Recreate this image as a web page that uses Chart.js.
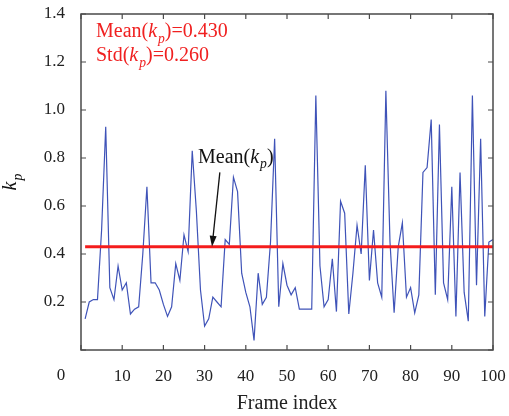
<!DOCTYPE html>
<html>
<head>
<meta charset="utf-8">
<script src="https://cdn.jsdelivr.net/npm/chart.js@4.4.1/dist/chart.umd.min.js"></script>
<style>
  html, body { margin: 0; padding: 0; background: #fff; }
  canvas { display: block; }
</style>
</head>
<body>
<canvas id="kpChart" width="509" height="416"></canvas>
<script>
// k_p per frame, frames 1..100
var kpValues = [
  0.13, 0.20, 0.21, 0.21, 0.50, 0.93, 0.26, 0.21, 0.35, 0.25,
  0.28, 0.15, 0.17, 0.18, 0.40, 0.68, 0.28, 0.28, 0.25, 0.19,
  0.14, 0.18, 0.36, 0.29, 0.48, 0.41, 0.83, 0.58, 0.25, 0.10,
  0.13, 0.22, 0.20, 0.18, 0.46, 0.44, 0.72, 0.66, 0.32, 0.24,
  0.18, 0.04, 0.32, 0.19, 0.22, 0.45, 0.88, 0.18, 0.36, 0.27,
  0.23, 0.26, 0.17, 0.17, 0.17, 0.17, 1.06, 0.35, 0.18, 0.21,
  0.38, 0.16, 0.62, 0.57, 0.15, 0.32, 0.52, 0.40, 0.77, 0.29,
  0.50, 0.28, 0.22, 1.08, 0.45, 0.155, 0.43, 0.53, 0.22, 0.26,
  0.155, 0.23, 0.74, 0.76, 0.96, 0.23, 0.94, 0.28, 0.21, 0.68,
  0.14, 0.74, 0.24, 0.12, 1.06, 0.27, 0.88, 0.14, 0.45, 0.46
];
var meanKp = 0.430;
var stdKp = 0.260;
var meanSpan = [1, 100];

var xTicks = [0, 10, 20, 30, 40, 50, 60, 70, 80, 90, 100];
var yTicks = [0, 0.2, 0.4, 0.6, 0.8, 1.0, 1.2, 1.4];

var SERIF = '"Liberation Serif", "Times New Roman", serif';

// draws text made of pieces, some italic and some as subscripts
function richText(ctx, x, y, parts, size, color) {
  ctx.save();
  ctx.fillStyle = color;
  ctx.textAlign = 'left';
  ctx.textBaseline = 'alphabetic';
  parts.forEach(function(p) {
    var fs = p.sub ? size * 0.68 : size;
    ctx.font = (p.it ? 'italic ' : '') + fs + 'px ' + SERIF;
    ctx.fillText(p.t, x, y + (p.sub ? size * 0.28 : 0));
    x += ctx.measureText(p.t).width + (p.it && !p.sub ? 1 : 0);
  });
  ctx.restore();
}

function kp(prefix, suffix) {
  return [{t: prefix}, {t: 'k', it: true}, {t: 'p', it: true, sub: true}, {t: suffix}];
}

// keep tick labels from pushing the plot area inwards
function noLabelPadding(scale) {
  scale.paddingTop = 0;
  scale.paddingBottom = 0;
  scale.paddingLeft = 0;
  scale.paddingRight = 0;
}

var frameDecor = {
  id: 'frameDecor',
  afterDraw: function(chart) {
    var ctx = chart.ctx;
    var a = chart.chartArea;
    var xs = chart.scales.x, ys = chart.scales.y;
    var tick = 5;

    ctx.save();
    ctx.strokeStyle = '#4a4a4a';
    ctx.lineWidth = 1.5;
    ctx.strokeRect(a.left, a.top, a.right - a.left, a.bottom - a.top);

    // inward tick marks on all four sides
    ctx.lineWidth = 1.2;
    ctx.beginPath();
    xTicks.forEach(function(v) {
      var px = xs.getPixelForValue(v);
      ctx.moveTo(px, a.bottom); ctx.lineTo(px, a.bottom - tick);
      ctx.moveTo(px, a.top); ctx.lineTo(px, a.top + tick);
    });
    yTicks.forEach(function(v) {
      var py = ys.getPixelForValue(v);
      ctx.moveTo(a.left, py); ctx.lineTo(a.left + tick, py);
      ctx.moveTo(a.right, py); ctx.lineTo(a.right - tick, py);
    });
    ctx.stroke();

    // shared origin label
    ctx.fillStyle = '#222';
    ctx.font = '17px ' + SERIF;
    ctx.textAlign = 'center';
    ctx.textBaseline = 'middle';
    ctx.fillText('0', a.left - 20, a.bottom + 26);

    // y axis title k_p, rotated
    ctx.translate(16, (a.top + a.bottom) / 2);
    ctx.rotate(-Math.PI / 2);
    ctx.font = 'italic 20px ' + SERIF;
    var w = ctx.measureText('k').width + 8;
    richText(ctx, -w / 2, 0, [{t: 'k', it: true}, {t: 'p', it: true, sub: true}], 20, '#111');
    ctx.restore();

    // statistics in the top left corner
    richText(ctx, a.left + 15, a.top + 23, kp('Mean(', ')=' + meanKp.toFixed(3)), 20, '#f02020');
    richText(ctx, a.left + 15, a.top + 47, kp('Std(', ')=' + stdKp.toFixed(3)), 20, '#f02020');

    // arrow pointing at the mean line
    var tipX = xs.getPixelForValue(31.8), tipY = ys.getPixelForValue(meanKp);
    var tailX = xs.getPixelForValue(33.7), tailY = ys.getPixelForValue(0.74);
    richText(ctx, xs.getPixelForValue(28.4), ys.getPixelForValue(0.78), kp('Mean(', ')'), 20, '#111');
    var ang = Math.atan2(tipY - tailY, tipX - tailX);
    ctx.save();
    ctx.strokeStyle = '#111';
    ctx.fillStyle = '#111';
    ctx.lineWidth = 1.3;
    ctx.beginPath();
    ctx.moveTo(tailX, tailY);
    ctx.lineTo(tipX - 9 * Math.cos(ang), tipY - 9 * Math.sin(ang));
    ctx.stroke();
    ctx.beginPath();
    ctx.moveTo(tipX, tipY);
    ctx.lineTo(tipX - 11 * Math.cos(ang) + 3.5 * Math.sin(ang), tipY - 11 * Math.sin(ang) - 3.5 * Math.cos(ang));
    ctx.lineTo(tipX - 11 * Math.cos(ang) - 3.5 * Math.sin(ang), tipY - 11 * Math.sin(ang) + 3.5 * Math.cos(ang));
    ctx.closePath();
    ctx.fill();
    ctx.restore();
  }
};

var kpPoints = kpValues.map(function(v, i) { return {x: i + 1, y: v}; });
var meanPoints = meanSpan.map(function(f) { return {x: f, y: meanKp}; });

new Chart(document.getElementById('kpChart').getContext('2d'), {
  type: 'line',
  data: {
    datasets: [{
      label: 'Mean',
      data: meanPoints,
      borderColor: '#f41c1c',
      borderWidth: 3,
      pointRadius: 0,
      tension: 0
    }, {
      label: 'kp',
      data: kpPoints,
      borderColor: '#3f53b8',
      borderWidth: 1.2,
      pointRadius: 0,
      tension: 0
    }]
  },
  options: {
    responsive: false,
    animation: false,
    devicePixelRatio: 1,
    layout: { padding: { left: 0, right: 16, top: 14, bottom: 0 } },
    plugins: {
      legend: { display: false },
      tooltip: { enabled: false }
    },
    scales: {
      x: {
        type: 'linear',
        min: 0,
        max: 100,
        afterBuildTicks: function(scale) {
          scale.ticks = xTicks.map(function(v) { return {value: v}; });
        },
        afterFit: function(scale) { scale.height = 66; noLabelPadding(scale); },
        grid: { display: false, drawTicks: false },
        border: { display: false },
        ticks: {
          padding: 16,
          color: '#222',
          font: { family: SERIF, size: 17 },
          maxRotation: 0,
          callback: function(v) { return v === 0 ? '' : v; }
        },
        title: {
          display: true,
          text: 'Frame index',
          color: '#222',
          font: { family: SERIF, size: 20 },
          padding: { top: 0, bottom: 0 }
        }
      },
      y: {
        min: 0,
        max: 1.4,
        afterBuildTicks: function(scale) {
          scale.ticks = yTicks.map(function(v) { return {value: v}; });
        },
        afterFit: function(scale) { scale.width = 81; noLabelPadding(scale); },
        grid: { display: false, drawTicks: false },
        border: { display: false },
        ticks: {
          padding: 16,
          color: '#222',
          font: { family: SERIF, size: 17 },
          callback: function(v) { return v === 0 ? '' : v.toFixed(1); }
        }
      }
    }
  },
  plugins: [frameDecor]
});
</script>
</body>
</html>
